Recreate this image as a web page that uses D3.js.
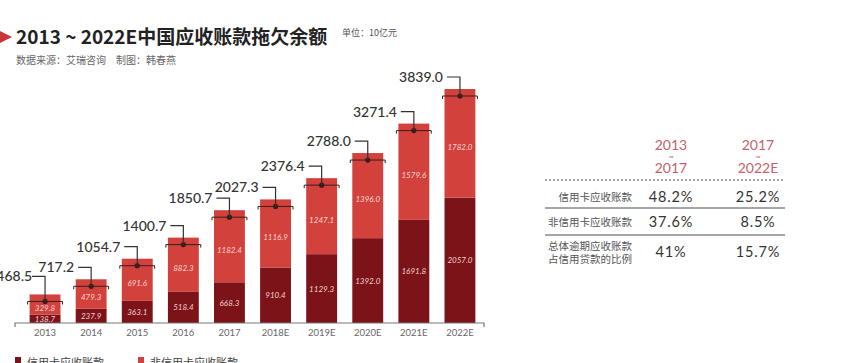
<!DOCTYPE html>
<html><head><meta charset="utf-8">
<script src="https://cdn.jsdelivr.net/npm/d3@7"></script>
<style>
html,body{margin:0;padding:0;background:#fff;overflow:hidden;}
svg{display:block;}
</style></head>
<body>
<svg id="chart" width="851" height="363"></svg>
<script>
const years = ["2013","2014","2015","2016","2017","2018E","2019E","2020E","2021E","2022E"];
const creditCard = [138.7,237.9,363.1,518.4,668.3,910.4,1129.3,1392.0,1691.8,2057.0];
const nonCreditCard = [329.8,479.3,691.6,882.3,1182.4,1116.9,1247.1,1396.0,1579.6,1782.0];
const totals = [468.5,717.2,1054.7,1400.7,1850.7,2027.3,2376.4,2788.0,3271.4,3839.0];
const seriesNames = ["信用卡应收账款","非信用卡应收账款"];
const tableHeaders = [["2013","~","2017"],["2017","~","2022E"]];
const tableRows = [
  {label:["信用卡应收账款"], v1:"48.2%", v2:"25.2%"},
  {label:["非信用卡应收账款"], v1:"37.6%", v2:"8.5%"},
  {label:["总体逾期应收账款","占信用贷款的比例"], v1:"41%", v2:"15.7%"}
];

const DARK = "#7b1319", LIGHT = "#d2413b", INK = "#3a1c1c";
const cjk = "'Noto Sans CJK SC', 'Noto Sans', sans-serif";
const num = "Lato, 'Open Sans', sans-serif";
const svg = d3.select("#chart");

// Title
svg.append("path").attr("d","M0,31 L12,37 L0,43 Z").attr("fill","#c8353a");
svg.append("text").attr("x",16).attr("y",44).attr("font-family",cjk).attr("font-weight","bold")
  .attr("font-size",19).attr("fill","#222").text("2013 ~ 2022E中国应收账款拖欠余额");
svg.append("text").attr("x",342).attr("y",36).attr("font-family",cjk).attr("font-size",9)
  .attr("fill","#555").text("单位：10亿元");
svg.append("text").attr("x",16).attr("y",64).attr("font-family",cjk).attr("font-size",10)
  .attr("fill","#666").text("数据来源：艾瑞咨询　制图：韩春燕");

// Scales
const x = d3.scaleBand().domain(years).range([22,483]).paddingInner(0.33).paddingOuter(0.165);
const y = d3.scaleLinear().domain([0,3839]).range([323,89]);
const bw = x.bandwidth();

const g = svg.append("g");
years.forEach((yr,i)=>{
  const x0 = x(yr), cx = x0 + bw/2;
  const yTop = y(totals[i]), yMid = y(creditCard[i]);
  g.append("rect").attr("x",x0).attr("width",bw).attr("y",yMid).attr("height",y(0)-yMid).attr("fill",DARK);
  g.append("rect").attr("x",x0).attr("width",bw).attr("y",yTop).attr("height",yMid-yTop).attr("fill",LIGHT);
  // segment labels
  g.append("text").attr("x",cx).attr("y",(yMid+y(0))/2+3).attr("text-anchor","middle")
    .attr("font-family",num).attr("font-style","italic").attr("font-size",8).attr("fill","#f3cfcf")
    .text(creditCard[i].toFixed(1));
  g.append("text").attr("x",cx).attr("y",(yTop+7+yMid)/2+3).attr("text-anchor","middle")
    .attr("font-family",num).attr("font-style","italic").attr("font-size",8).attr("fill","#f6d6d3")
    .text(nonCreditCard[i].toFixed(1));
  // bracket
  const by = yTop + 7;
  g.append("path").attr("d",`M${x0-2},${by+3} L${x0-2},${by} L${x0+bw+2},${by} L${x0+bw+2},${by+3}`)
    .attr("fill","none").attr("stroke",INK).attr("stroke-width",1);
  g.append("circle").attr("cx",cx).attr("cy",by).attr("r",2.6).attr("fill",INK);
  // leader
  const ly = yTop - (i===0 ? 18 : 12);
  g.append("path").attr("d",`M${cx-13},${ly} L${cx},${ly} L${cx},${by}`)
    .attr("fill","none").attr("stroke","#333").attr("stroke-width",1.2);
  g.append("text").attr("x",cx-(i===0 ? 13 : 17)).attr("y",ly+5).attr("text-anchor","end")
    .attr("font-family",num).attr("font-size",14).attr("font-weight",500).attr("fill","#333")
    .text(totals[i].toFixed(1));
});

// Axis
svg.append("path").attr("d","M15,327 L15,323 L484,323 L484,327").attr("fill","none")
  .attr("stroke","#777").attr("stroke-width",1.2);
const ax = svg.append("g").attr("transform","translate(0,323)")
  .call(d3.axisBottom(x).tickSize(0).tickPadding(6));
ax.select(".domain").remove();
ax.selectAll("text").attr("font-family",num).attr("font-size",9.5).attr("fill","#666");

// Legend (cut off at bottom, as in the reference)
[[15,DARK,seriesNames[0]],[138,LIGHT,seriesNames[1]]].forEach(([lx,c,t])=>{
  svg.append("rect").attr("x",lx).attr("y",357).attr("width",6).attr("height",7).attr("fill",c);
  svg.append("text").attr("x",lx+12).attr("y",367).attr("font-family",cjk).attr("font-size",11)
    .attr("fill","#444").text(t);
});

// Table
const c1 = 671, c2 = 758;
const hColor = "#c4626a";
tableHeaders.forEach((h,j)=>{
  const cx = j===0?c1:c2;
  svg.append("text").attr("x",cx).attr("y",150).attr("text-anchor","middle").attr("font-family",num)
    .attr("font-size",14).attr("fill",hColor).text(h[0]);
  svg.append("text").attr("x",cx).attr("y",160).attr("text-anchor","middle").attr("font-family",num)
    .attr("font-size",9).attr("fill",hColor).text(h[1]);
  svg.append("text").attr("x",cx).attr("y",173).attr("text-anchor","middle").attr("font-family",num)
    .attr("font-size",14).attr("fill",hColor).text(h[2]);
});
svg.append("line").attr("x1",545).attr("x2",785).attr("y1",180).attr("y2",180)
  .attr("stroke","#555").attr("stroke-width",1).attr("stroke-dasharray","2,2");
[208,235].forEach(ly=>svg.append("line").attr("x1",545).attr("x2",785).attr("y1",ly).attr("y2",ly)
  .attr("stroke","#888").attr("stroke-width",1.5));
const rowY = [197,222,252];
tableRows.forEach((r,i)=>{
  const yy = rowY[i];
  if(r.label.length===1){
    svg.append("text").attr("x",632).attr("y",yy+4).attr("text-anchor","end").attr("font-family",cjk)
      .attr("font-size",10.5).attr("fill","#555").text(r.label[0]);
  } else {
    r.label.forEach((t,k)=>svg.append("text").attr("x",632).attr("y",yy-2+k*12.5).attr("text-anchor","end")
      .attr("font-family",cjk).attr("font-size",10.5).attr("fill","#555").text(t));
  }
  [[c1,r.v1],[c2,r.v2]].forEach(([cx,v])=>svg.append("text").attr("x",cx).attr("y",yy+5)
    .attr("text-anchor","middle").attr("font-family",num).attr("font-size",14.5).attr("letter-spacing",0.8)
    .attr("fill","#333").text(v));
});
</script>
</body></html>
